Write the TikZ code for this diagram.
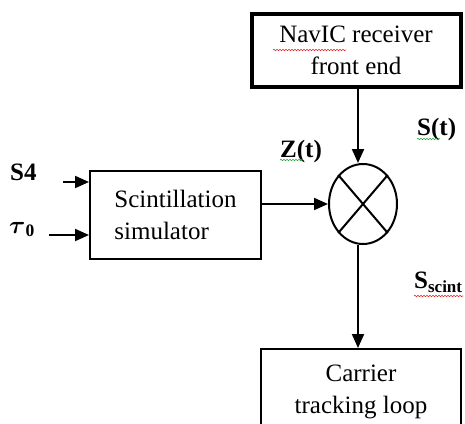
\documentclass[tikz,border=0pt]{standalone}
\usepackage{amsmath}
\usepackage{fontspec}
\setmainfont{Liberation Serif}
\usetikzlibrary{arrows.meta,shapes.geometric,decorations.pathmorphing}

\definecolor{spellred}{RGB}{225,35,35}
\definecolor{gramgreen}{RGB}{40,160,60}

\tikzset{
  blk/.style={draw,line width=2pt,inner sep=0pt},
  arr/.style={line width=2pt,-{Triangle[length=14pt,width=12pt]}},
  lbl/.style={inner sep=0pt,anchor=base west,font=\fontsize{25}{32}\selectfont\bfseries},
  wavy/.style={decorate,decoration={snake,amplitude=.7pt,segment length=3pt},line width=.6pt}
}

\begin{document}
\begin{tikzpicture}[x=1pt,y=-1pt,font=\fontsize{25}{32}\selectfont]
\useasboundingbox (0,0) rectangle (465,423);
\clip (0,0) rectangle (465,423);

%blocks
\node[blk,line width=4pt,minimum width=209,minimum height=73,align=center] (navic) at (356,50.5) {NavIC receiver\\ front end};
\node[blk,minimum width=171,minimum height=88,align=left] (scint) at (175.5,215) {Scintillation\\ simulator};
\node[draw,ellipse,line width=2pt,minimum width=68,minimum height=80,inner sep=0pt] (mul) at (363,204) {};
\node[blk,anchor=north,minimum width=200,inner sep=16pt,align=center] (carrier) at (361,348) {Carrier\\ tracking loop};

\draw[line width=2pt] (mul.north west) -- (mul.south east) (mul.north east) -- (mul.south west);

%signals
\node[lbl] (sfour) at (10,180) {S4};
\node[lbl] (tau) at (9,233) {$\boldsymbol{\tau}_{\mathbf{0}}$};
\node[lbl] (zt) at (280,157) {Z(t)};
\node[lbl] (st) at (417,135) {S(t)};
\node[lbl] (ss) at (414,288) {S\raisebox{-4pt}{\fontsize{17}{20}\selectfont scint}};

\coordinate (axis) at (358,0);
\coordinate (in1) at (63,182);
\coordinate (in2) at (49,235);

\draw[arr] (in1) -- (in1 -| scint.west);
\draw[arr] (in2) -- (in2 -| scint.west);
\draw[arr] (scint.east |- mul) -- (mul.west);
\draw[arr] (navic.south -| axis) -- (mul.north -| axis);
\draw[arr] (mul.south -| axis) -- (carrier.north -| axis);

%spell check marks
\draw[wavy,spellred] (273,50) -- (346,50);
\draw[wavy,gramgreen] (280,160) -- (303,160);
\draw[wavy,gramgreen] (417,139) -- (440,139);
\draw[wavy,spellred] (414,296) -- (463,296);

\end{tikzpicture}
\end{document}
